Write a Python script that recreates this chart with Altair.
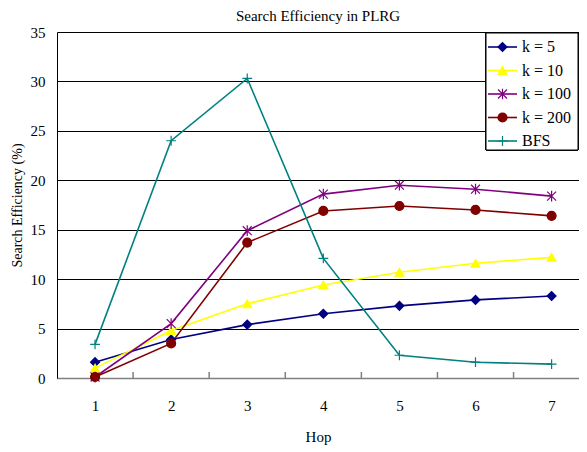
import altair as alt
import pandas as pd

hops = [1, 2, 3, 4, 5, 6, 7]
series_names = ["k = 5", "k = 10", "k = 100", "k = 200", "BFS"]
k5 = [1.6, 3.9, 5.4, 6.5, 7.3, 7.9, 8.3]
k10 = [1.0, 4.8, 7.5, 9.4, 10.7, 11.6, 12.2]
k100 = [0.1, 5.5, 14.9, 18.6, 19.5, 19.1, 18.4]
k200 = [0.1, 3.5, 13.7, 16.9, 17.4, 17.0, 16.4]
bfs = [3.4, 24.0, 30.3, 12.1, 2.3, 1.6, 1.4]
tick_positions = [1.5, 2.5, 3.5, 4.5, 5.5, 6.5]
y_ticks = [0, 5, 10, 15, 20, 25, 30, 35]

colors = ["#000080", "#FFFF00", "#800080", "#800000", "#008080"]
point_shapes = [
    "diamond",
    "triangle-up",
    "M-1,-1L1,1M-1,1L1,-1M0,-1.2L0,1.2",
    "circle",
    "M-1.1,0L1.1,0M0,-1.1L0,1.1",
]

rows = []
for name, vals in zip(series_names, [k5, k10, k100, k200, bfs]):
    for h, v in zip(hops, vals):
        rows.append({"Hop": h, "value": v, "series": name})
df = pd.DataFrame(rows)
ticks_df = pd.DataFrame({"pos": tick_positions})

FONT = "Liberation Serif"

x_enc = alt.X(
    "Hop:Q",
    scale=alt.Scale(domain=[0.5, 7.36], nice=False, zero=False),
    axis=alt.Axis(
        values=hops, format="d", ticks=False, grid=False, title="Hop",
        labelFont=FONT, labelFontSize=15, labelColor="black", labelPadding=20,
        titleFont=FONT, titleFontSize=15, titleFontWeight="normal",
        titleColor="black", titlePadding=16,
        domainColor="#808080", domainWidth=1.5,
    ),
)
y_enc = alt.Y(
    "value:Q",
    scale=alt.Scale(domain=[0, 35], nice=False),
    axis=alt.Axis(
        values=y_ticks, ticks=False, grid=True, gridColor="black", gridWidth=1,
        title="Search Efficiency (%)",
        labelFont=FONT, labelFontSize=15, labelColor="black", labelPadding=12,
        titleFont=FONT, titleFontSize=14, titleFontWeight="normal",
        titleColor="black", titlePadding=6,
        domainColor="black", domainWidth=1,
    ),
)

lines = alt.Chart(df).mark_line(strokeWidth=1.6).encode(
    x=x_enc,
    y=y_enc,
    stroke=alt.Stroke("series:N", scale=alt.Scale(domain=series_names, range=colors), legend=None),
)

point_layers = []
for name, col, shp in zip(series_names, colors, point_shapes):
    point_layers.append(
        alt.Chart(df).transform_filter(alt.datum.series == name).mark_point(
            filled=True, size=80, opacity=1, strokeWidth=1.2,
            shape=shp, fill=col, stroke=col,
        ).encode(x="Hop:Q", y="value:Q")
    )

xticks = alt.Chart(ticks_df).mark_rule(color="#808080", strokeWidth=1.5).encode(
    x="pos:Q",
    y=alt.value(340),
    y2=alt.value(346),
)

# Legend (drawn in the top-right corner of the plot area)
LEG_LEFT, LEG_RIGHT, LEG_TOP, LEG_BOTTOM = 429, 521, 1, 118
ROW0, ROW_STEP = 15, 23.5
legend_layers = [
    alt.Chart(pd.DataFrame({"series": series_names})).mark_rect(
        fill="white", stroke="black", strokeWidth=1
    ).encode(
        x=alt.value(LEG_LEFT), x2=alt.value(LEG_RIGHT),
        y=alt.value(LEG_TOP), y2=alt.value(LEG_BOTTOM),
    )
]
for i, (name, col, shp) in enumerate(zip(series_names, colors, point_shapes)):
    row_df = pd.DataFrame({"series": [name]})
    yy = ROW0 + ROW_STEP * i
    legend_layers.append(
        alt.Chart(row_df).mark_rule(color=col, strokeWidth=1.6).encode(
            x=alt.value(LEG_LEFT + 2), x2=alt.value(LEG_LEFT + 31), y=alt.value(yy)
        )
    )
    legend_layers.append(
        alt.Chart(row_df).mark_point(
            filled=True, size=80, opacity=1, strokeWidth=1.2,
            shape=shp, fill=col, stroke=col,
        ).encode(x=alt.value(LEG_LEFT + 16.5), y=alt.value(yy))
    )
    legend_layers.append(
        alt.Chart(row_df).mark_text(
            align="left", baseline="middle", font=FONT, fontSize=16, color="black"
        ).encode(x=alt.value(LEG_LEFT + 36), y=alt.value(yy), text="series:N")
    )

chart = alt.layer(xticks, lines, *point_layers, *legend_layers).properties(
    width=522,
    height=346,
    autosize=alt.AutoSizeParams(type="none"),
    padding={"left": 49, "top": 24, "right": 0, "bottom": 70},
    title=alt.TitleParams(
        "Search Efficiency in PLRG", font=FONT, fontSize=15, fontWeight="normal",
        color="black", offset=1,
    ),
).configure_view(stroke="#808080", strokeWidth=1.5).configure(background="white")

chart.save("out.html", embed_options={"renderer": "svg", "actions": False})
